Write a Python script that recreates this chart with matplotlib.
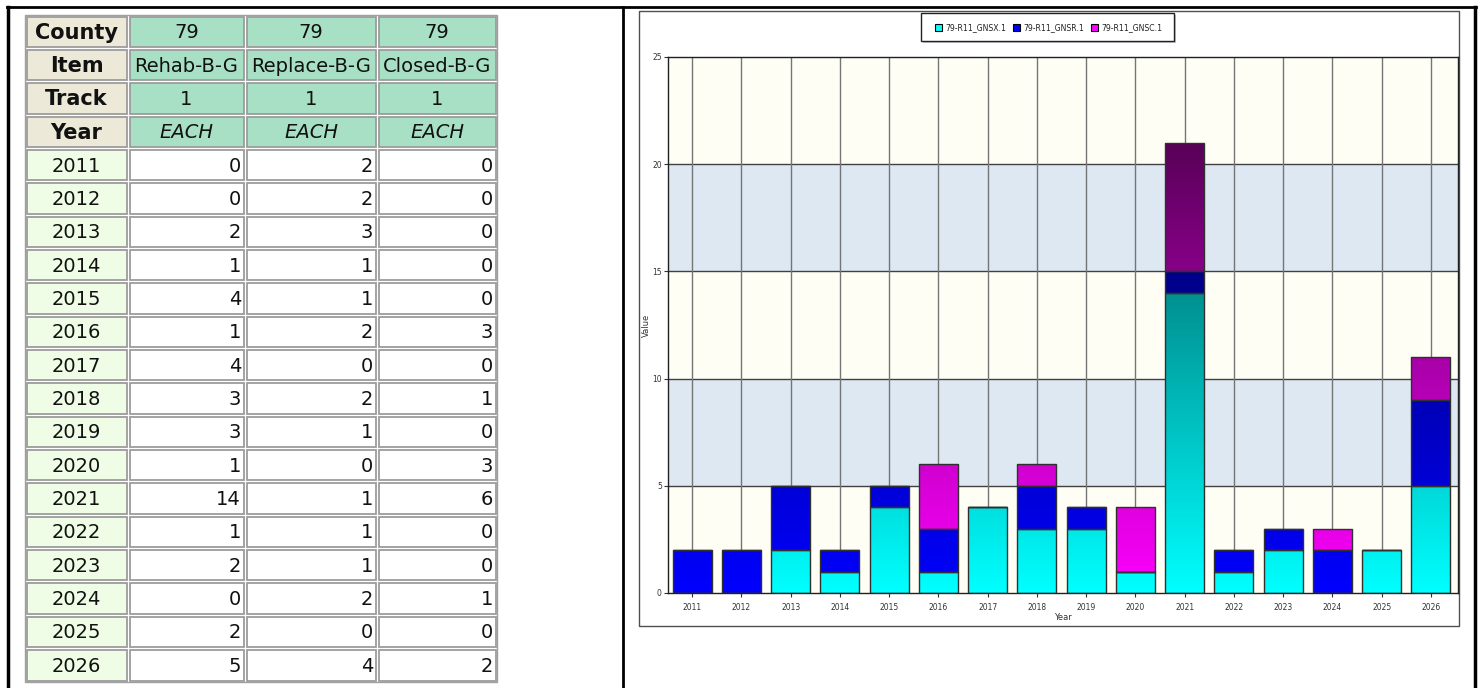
import numpy as np
import matplotlib
matplotlib.use('Agg')
from matplotlib import pyplot as plt
from matplotlib.patches import Rectangle

########## data ###################
years = [2011, 2012, 2013, 2014, 2015, 2016, 2017, 2018, 2019, 2020, 2021, 2022, 2023, 2024, 2025, 2026]
rehab = [0, 0, 2, 1, 4, 1, 4, 3, 3, 1, 14, 1, 2, 0, 2, 5]      # 79-R11_GNSX.1
replace = [2, 2, 3, 1, 1, 2, 0, 2, 1, 0, 1, 1, 1, 2, 0, 4]     # 79-R11_GNSR.1
closed = [0, 0, 0, 0, 0, 3, 0, 1, 0, 3, 6, 0, 0, 1, 0, 2]      # 79-R11_GNSC.1
series_names = ['79-R11_GNSX.1', '79-R11_GNSR.1', '79-R11_GNSC.1']
items = ['Rehab-B-G', 'Replace-B-G', 'Closed-B-G']
county = ['79', '79', '79']
track = ['1', '1', '1']
units = ['EACH', 'EACH', 'EACH']
row_heads = ['County', 'Item', 'Track', 'Year']
y_ticks = [0, 5, 10, 15, 20, 25]
###################################

W, H = 1481, 688
fig = plt.figure(figsize=(W / 100, H / 100), dpi=100)

# overlay axes in pixel coords (y down) for table and frames
ov = fig.add_axes([0, 0, 1, 1])
ov.set_xlim(0, W)
ov.set_ylim(H, 0)
ov.axis('off')

# page frame lines
ov.plot([7, 1476], [7, 7], color='black', lw=2)
ov.plot([8, 8], [7, H], color='black', lw=2.5)
ov.plot([623, 623], [7, H], color='black', lw=2)
ov.plot([1475, 1475], [7, H], color='black', lw=2.5)

################ table ###################
col_x = [25, 128, 245, 377, 497]
top, bottom = 15, 682
nrows = 4 + len(years)
rh = (bottom - top) / nrows

ov.add_patch(Rectangle((col_x[0], top), col_x[-1] - col_x[0], bottom - top,
                       facecolor='white', edgecolor='#a0a0a0', lw=1))

def cell(c, r, face, text, ha='center', weight='normal', style='normal', size=14):
    x0, x1 = col_x[c], col_x[c + 1]
    y0 = top + r * rh
    ov.add_patch(Rectangle((x0 + 1.5, y0 + 1.5), x1 - x0 - 3, rh - 3,
                           facecolor=face, edgecolor='#9c9c9c', lw=1.3))
    if ha == 'center':
        tx = (x0 + x1) / 2
    else:
        tx = x1 - 4
    ov.text(tx, y0 + rh / 2 + 1, text, ha=ha, va='center', fontsize=size,
            fontweight=weight, fontstyle=style, color='#111111')

head_face = '#ece9d8'
green_face = '#a8e0c6'
year_face = '#effde6'
header_vals = [county, items, track, units]
for r in range(4):
    cell(0, r, head_face, row_heads[r], weight='bold', size=15)
    for c in range(3):
        cell(c + 1, r, green_face, header_vals[r][c],
             style='italic' if r == 3 else 'normal')

table_cols = [rehab, replace, closed]
for i, yr in enumerate(years):
    cell(0, 4 + i, year_face, str(yr))
    for c in range(3):
        cell(c + 1, 4 + i, 'white', str(table_cols[c][i]), ha='right')

################ chart panel ###################
ov.add_patch(Rectangle((639, 11), 820, 615, facecolor='white', edgecolor='#505050', lw=1))

# legend box with shadow
ov.add_patch(Rectangle((923, 15), 253, 28, facecolor='#c8c8c8', edgecolor='none'))
ov.add_patch(Rectangle((921, 13), 253, 28, facecolor='white', edgecolor='#222222', lw=1))
leg_colors = ['#00ffff', '#0000ff', '#ff00ff']
leg_x = [935, 1013, 1091]
for k in range(3):
    ov.add_patch(Rectangle((leg_x[k], 23.5), 7, 7, facecolor=leg_colors[k],
                           edgecolor='black', lw=0.8))
    ov.text(leg_x[k] + 10, 27.5, series_names[k], ha='left', va='center',
            fontsize=5.6, color='#222222')

# plot area
L, R, T, B = 668, 1458, 57, 593
ax = fig.add_axes([L / W, (H - B) / H, (R - L) / W, (B - T) / H])
ax.set_facecolor('#fefef4')
x = np.arange(len(years))

# alternating bands
for k in range(5):
    if k % 2 == 1:
        ax.axhspan(k * 5, (k + 1) * 5, color='#dde8f2', zorder=0, lw=0)
for yv in y_ticks[1:-1]:
    ax.axhline(yv, color='#404040', lw=1, zorder=1)
for xi in x:
    ax.axvline(xi, color='#757575', lw=1, zorder=1)

# stacked bars with vertical gradient (darker higher up)
base_cols = [np.array([0, 1, 1.0]), np.array([0, 0, 1.0]), np.array([1, 0, 1.0])]
yy = np.linspace(0, 25, 256)
fade = (1 - yy / 32.0)[:, None, None]
bw = 0.79
bottoms = np.zeros(len(years))
for s, vals in enumerate([rehab, replace, closed]):
    vals = np.array(vals, dtype=float)
    bars = ax.bar(x, vals, bw, bottom=bottoms, facecolor='none',
                  edgecolor='#303030', lw=1, zorder=3)
    grad = fade * base_cols[s][None, None, :]
    for xi, p, v in zip(x, bars.patches, vals):
        if v == 0:
            continue
        im = ax.imshow(grad, origin='lower', aspect='auto', interpolation='bilinear',
                       extent=(xi - bw / 2, xi + bw / 2, 0, 25), zorder=2.5)
        im.set_clip_path(p)
    bottoms = bottoms + vals

ax.set_xlim(-0.49, len(years) - 1 + 0.55)
ax.set_ylim(0, 25)

ax.set_xticks(x)
ax.set_xticklabels([str(y) for y in years])
ax.set_yticks(y_ticks)
ax.tick_params(axis='both', labelsize=5.5, colors='#333333', length=3, width=0.8)
ax.tick_params(axis='x', pad=4)
ax.tick_params(axis='y', pad=1.5)
for sp in ax.spines.values():
    sp.set_color('#202020')
    sp.set_linewidth(1)
ax.set_zorder(2)

fig.text((L + R) / 2 / W, (H - 617) / H, 'Year', ha='center', va='center',
         fontsize=6, color='#333333')
fig.text(646 / W, (H - (T + B) / 2) / H, 'Value', ha='center', va='center',
         rotation=90, fontsize=6, color='#333333')

fig.savefig('out.png', dpi=100)
